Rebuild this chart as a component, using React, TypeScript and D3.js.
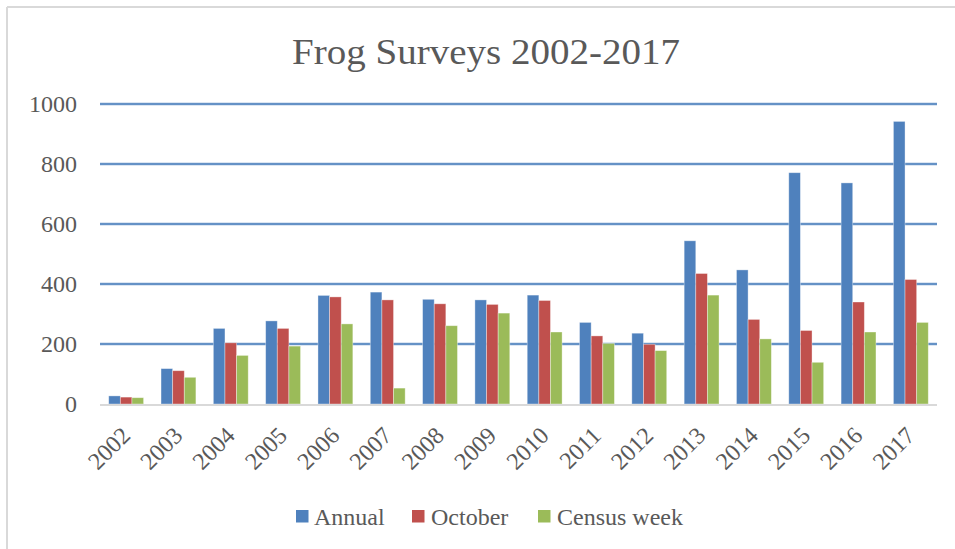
import React from "react";
import * as d3 from "d3";

const years = ["2002","2003","2004","2005","2006","2007","2008","2009","2010","2011","2012","2013","2014","2015","2016","2017"];
const annual = [27,118,252,277,362,373,349,347,363,272,236,544,447,771,737,942];
const october = [23,111,204,252,357,347,334,332,345,227,199,435,282,245,340,415];
const census = [21,89,162,193,267,53,261,303,240,202,178,363,217,139,240,272];
const seriesNames = ["Annual","October","Census week"];
const seriesColors = ["#4F81BD","#C0504D","#9BBB59"];
const yTicks = [0,200,400,600,800,1000];

const W = 955, H = 549;
const FONT = "'Liberation Serif', 'DejaVu Serif', serif";
const TXT = "#595959";

export default function App() {
  const values = [annual, october, census];
  const x0 = d3.scaleBand<string>().domain(years).range([100, 937]).padding(0);
  const band = x0.bandwidth();
  const barW = band / 4.5;
  const x1 = d3.scaleBand<string>().domain(seriesNames).range([0.75 * barW, band - 0.75 * barW]).padding(0);
  const y = d3.scaleLinear().domain([0, 1000]).range([404, 104]);

  const legendX = [296, 412, 538];
  const legendTextX = [314, 431, 557];

  return (
    <svg width={W} height={H} style={{ position: "absolute", left: 0, top: 0, background: "#fff" }}>
      <rect x={0} y={0} width={W} height={H} fill="#fff" />
      <line x1={7} y1={7} x2={W} y2={7} stroke="#d9d9d9" strokeWidth={2} />
      <line x1={7} y1={7} x2={7} y2={H} stroke="#d9d9d9" strokeWidth={2} />
      <text x={486} y={64} textAnchor="middle" fontFamily={FONT} fontSize={36} fill={TXT}
        textLength={388} lengthAdjust="spacingAndGlyphs">Frog Surveys 2002-2017</text>
      {yTicks.filter(t => t > 0).map(t => (
        <g key={t}>
          <line x1={100} x2={937} y1={y(t)} y2={y(t)} stroke="#b9cde5" strokeWidth={3} />
          <line x1={100} x2={937} y1={y(t)} y2={y(t)} stroke="#4a7ebb" strokeWidth={1.6} />
        </g>
      ))}
      {yTicks.map(t => (
        <text key={"l" + t} x={77} y={y(t)} dy="0.35em" textAnchor="end" fontFamily={FONT} fontSize={24} fill={TXT}>{t}</text>
      ))}
      {years.map((yr, i) => (
        <g key={yr} transform={`translate(${x0(yr)},0)`}>
          {seriesNames.map((s, k) => (
            <rect key={s} x={x1(s)} y={y(values[k][i])} width={x1.bandwidth()} height={y(0) - y(values[k][i])}
              fill={seriesColors[k]} stroke="rgba(255,255,255,0.45)" strokeWidth={0.8} />
          ))}
        </g>
      ))}
      <line x1={100} x2={937} y1={405} y2={405} stroke="#d9d9d9" strokeWidth={2} />
      {years.map(yr => {
        const cx = (x0(yr) as number) + band / 2 + 5.5;
        return (
          <text key={"x" + yr} x={cx} y={437} textAnchor="end" transform={`rotate(-45 ${cx} 437)`}
            fontFamily={FONT} fontSize={24} fill={TXT}>{yr}</text>
        );
      })}
      {seriesNames.map((s, k) => (
        <g key={"lg" + s}>
          <rect x={legendX[k]} y={510} width={12.5} height={12.5} fill={seriesColors[k]} />
          <text x={legendTextX[k]} y={525} fontFamily={FONT} fontSize={24} fill={TXT}>{s}</text>
        </g>
      ))}
    </svg>
  );
}
